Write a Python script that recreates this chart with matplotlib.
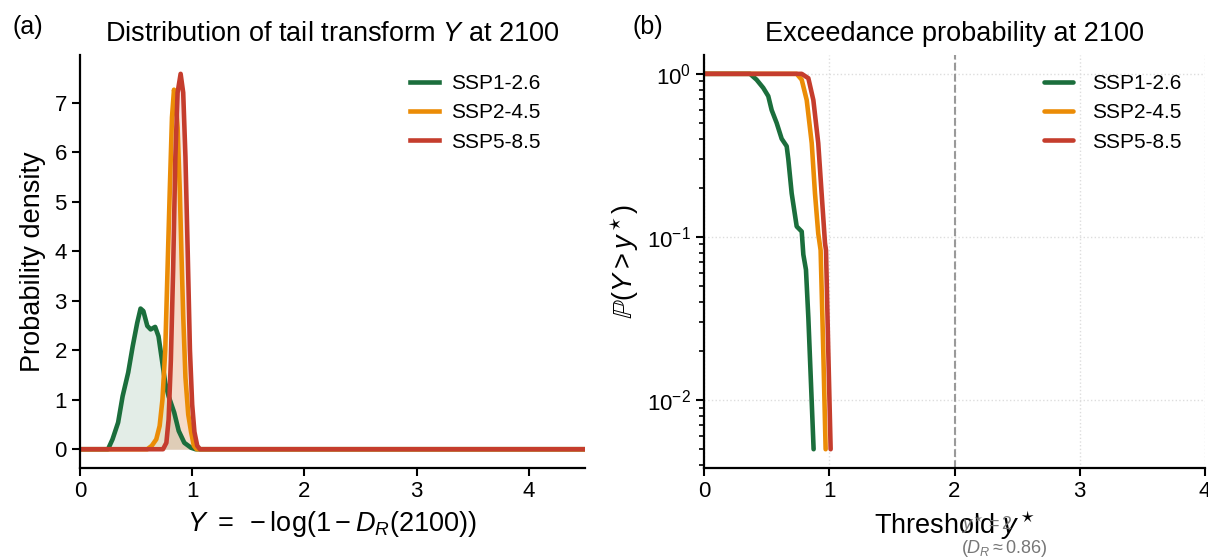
import matplotlib
matplotlib.use("Agg")
import matplotlib.pyplot as plt

plt.rcParams['font.family'] = ['Liberation Sans', 'DejaVu Sans']
plt.rcParams['mathtext.fontset'] = 'custom'
plt.rcParams['mathtext.rm'] = 'Liberation Sans'
plt.rcParams['mathtext.it'] = 'Liberation Sans:italic'

# escenarios y colores
escenarios = ['SSP1-2.6', 'SSP2-4.5', 'SSP5-8.5']
colores = ['#1b6e3c', '#eb8c06', '#c53d2d']

# (a) densidades
y_ssp1 = [0, 0.25, 0.29, 0.34, 0.38, 0.43, 0.47, 0.51, 0.54, 0.565, 0.60, 0.63, 0.67,
          0.70, 0.73, 0.76, 0.79, 0.84, 0.88, 0.93, 0.99, 1.03, 4.5]
d_ssp1 = [0, 0, 0.2, 0.54, 1.07, 1.55, 2.08, 2.55, 2.84, 2.79, 2.49, 2.42, 2.47,
          2.28, 1.81, 1.34, 1.07, 0.74, 0.37, 0.13, 0.03, 0, 0]
y_ssp2 = [0, 0.60, 0.64, 0.68, 0.71, 0.735, 0.76, 0.78, 0.80, 0.82, 0.838, 0.855, 0.87,
          0.89, 0.905, 0.92, 0.94, 0.965, 0.99, 1.015, 1.04, 4.5]
d_ssp2 = [0, 0, 0.07, 0.2, 0.47, 1.0, 2.0, 3.6, 5.2, 6.7, 7.26, 7.0, 6.5,
          5.2, 3.9, 2.7, 1.45, 0.7, 0.35, 0.07, 0, 0]
y_ssp5 = [0, 0.74, 0.77, 0.79, 0.81, 0.83, 0.85, 0.87, 0.897, 0.92, 0.94, 0.96, 0.98,
          1.0, 1.02, 1.045, 1.07, 4.5]
d_ssp5 = [0, 0, 0.13, 0.6, 1.8, 3.6, 5.9, 7.2, 7.58, 7.2, 5.9, 4.0, 2.0,
          0.9, 0.35, 0.07, 0, 0]

# (b) probabilidad de excedencia
u_ssp1 = [0, 0.367, 0.42, 0.473, 0.513, 0.54, 0.58, 0.62, 0.66, 0.673, 0.70, 0.74, 0.78,
          0.793, 0.814, 0.833, 0.854, 0.875]
p_ssp1 = [1.0, 1.0, 0.92, 0.82, 0.73, 0.60, 0.50, 0.40, 0.36, 0.30, 0.185, 0.116, 0.108,
          0.078, 0.063, 0.032, 0.0127, 0.005]
u_ssp2 = [0, 0.74, 0.78, 0.82, 0.86, 0.886, 0.912, 0.931, 0.952, 0.971]
p_ssp2 = [1.0, 1.0, 0.92, 0.69, 0.376, 0.185, 0.105, 0.083, 0.0203, 0.005]
u_ssp5 = [0, 0.78, 0.833, 0.873, 0.912, 0.939, 0.966, 0.974, 0.992, 1.011]
p_ssp5 = [1.0, 1.0, 0.94, 0.69, 0.376, 0.185, 0.0915, 0.083, 0.0203, 0.005]

umbral = 2.0
ticks_b = [0, 1, 2, 3, 4]

fig = plt.figure(figsize=(12.08, 5.58), dpi=100)
ax1 = fig.add_axes([0.0662, 0.1613, 0.418, 0.740])
ax2 = fig.add_axes([0.5828, 0.1613, 0.4147, 0.740])

# Panel (a)
dens = [(y_ssp1, d_ssp1), (y_ssp2, d_ssp2), (y_ssp5, d_ssp5)]
for (xs, ds), nombre, c in zip(dens, escenarios, colores):
    ax1.fill_between(xs, 0, ds, color=c, alpha=0.12, lw=0)
    ax1.plot(xs, ds, color=c, lw=3.3, label=nombre)
ax1.set_xlim(0, 4.5)
ax1.set_xlabel(r'$Y\ =\ -\log(1 - D_R(2100))$', fontsize=19.5, labelpad=5)
ax1.set_ylabel('Probability density', fontsize=19.5, labelpad=6)
ax1.set_title(r'Distribution of tail transform $Y$ at 2100', fontsize=19.5, pad=10)
ax1.legend(loc='upper right', frameon=False, fontsize=15, handlelength=1.4,
           handletextpad=0.6, bbox_to_anchor=(0.95, 1.0), labelspacing=0.5)
fig.text(0.010, 0.952, '(a)', fontsize=18, va='center')

# Panel (b)
exc = [(u_ssp1, p_ssp1), (u_ssp2, p_ssp2), (u_ssp5, p_ssp5)]
for (xs, ps), nombre, c in zip(exc, escenarios, colores):
    ax2.plot(xs, ps, color=c, lw=3.3, label=nombre, solid_capstyle='round')
ax2.set_yscale('log')
ax2.set_xlim(0, 4)
ax2.set_xticks(ticks_b)
ax2.axvline(umbral, color='#999999', ls='--', lw=1.5)
ax2.grid(True, which='major', ls=':', color='#dddddd', lw=1)
ax2.set_xlabel(r'Threshold $y^\star$', fontsize=19.5, labelpad=5)
ax2.set_ylabel(r'$\mathbb{P}(Y > y^\star)$', fontsize=19.5, labelpad=4)
ax2.set_title('Exceedance probability at 2100', fontsize=19.5, pad=10)
ax2.legend(loc='upper right', frameon=False, fontsize=15, handlelength=1.4,
           handletextpad=0.9, bbox_to_anchor=(0.99, 1.0), labelspacing=0.5)
ax2.text(umbral + 0.05, -0.11, '$y^\\star = 2$\n($D_R \\approx 0.86$)',
         transform=ax2.get_xaxis_transform(), ha='left', va='top',
         fontsize=13, color='#777777', linespacing=1.1)
fig.text(0.524, 0.952, '(b)', fontsize=18, va='center')

for ax in (ax1, ax2):
    ax.spines['top'].set_visible(False)
    ax.spines['right'].set_visible(False)
    ax.spines['left'].set_linewidth(1.6)
    ax.spines['bottom'].set_linewidth(1.6)
    ax.tick_params(labelsize=16, width=1.5, length=6)
ax2.tick_params(which='minor', width=1.2, length=3.5)

fig.savefig('out.png', dpi=100)
